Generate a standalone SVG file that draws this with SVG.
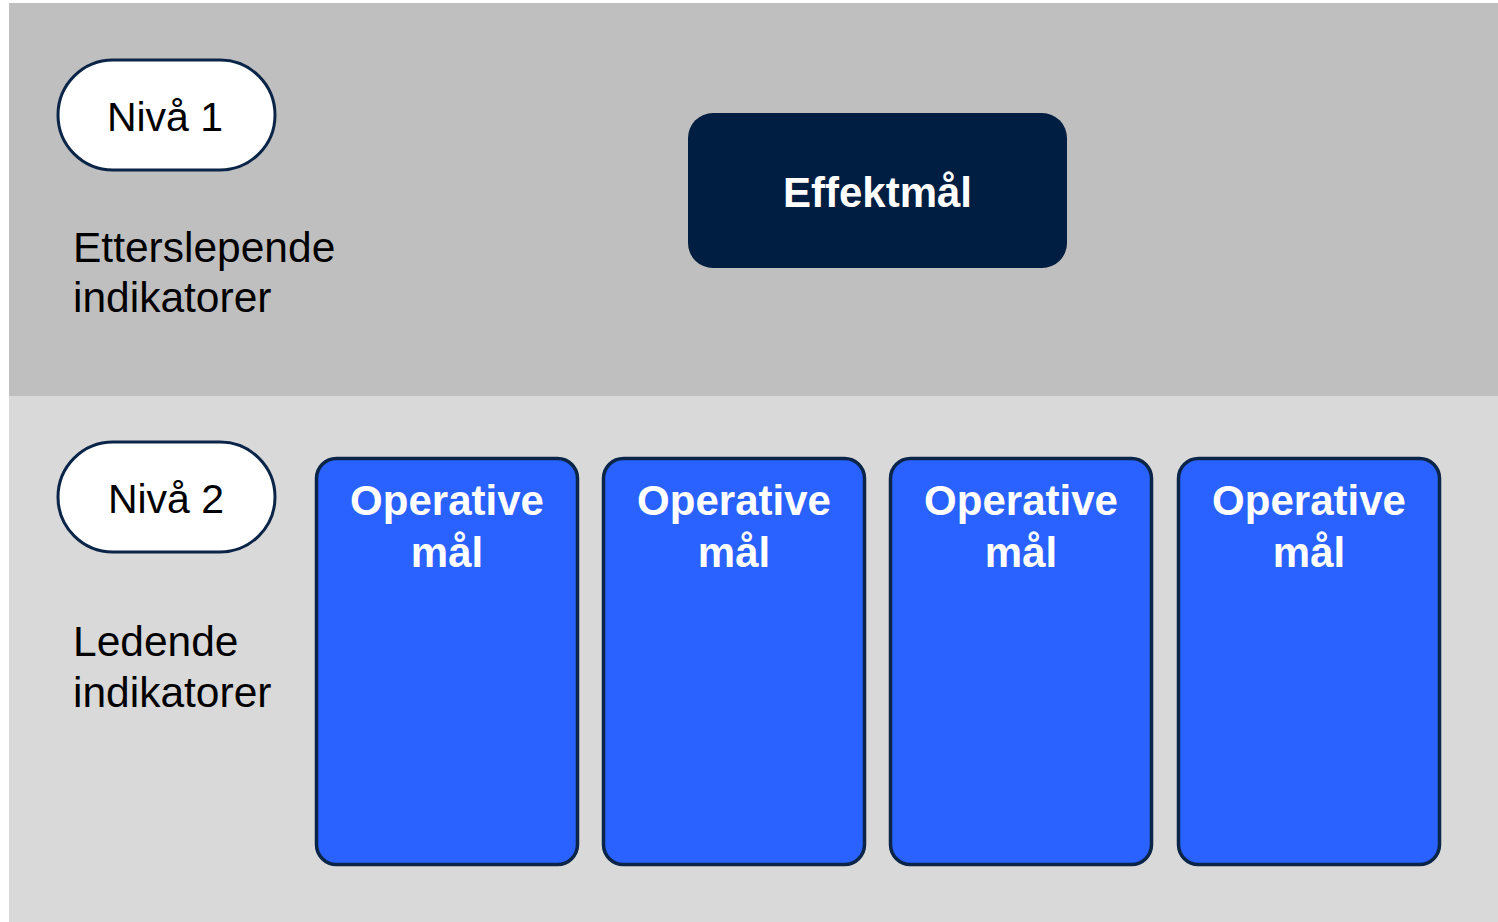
<svg xmlns="http://www.w3.org/2000/svg" width="1498" height="922" viewBox="0 0 1498 922">
  <style>
    .pill { fill: #ffffff; stroke: #0b2548; stroke-width: 3; }
    .pill-text { font-family: "Liberation Sans", Arial, sans-serif; font-size: 41px; fill: #000000; text-anchor: middle; }
    .side-text { font-family: "Liberation Sans", Arial, sans-serif; font-size: 42.5px; fill: #000000; }
    .goal-dark { fill: #001e41; }
    .goal-blue { fill: #2962ff; stroke: #0b2548; stroke-width: 3.5; }
    .goal-text { font-family: "Liberation Sans", Arial, sans-serif; font-size: 42px; font-weight: bold; fill: #ffffff; text-anchor: middle; }
  </style>

  <!-- background bands -->
  <rect x="0" y="0" width="1498" height="922" fill="#ffffff"/>
  <rect id="band-level1" x="9" y="3" width="1489" height="393" fill="#bfbfbf"/>
  <rect id="band-level2" x="9" y="396" width="1489" height="526" fill="#d9d9d9"/>

  <!-- level labels -->
  <g id="level1-label">
    <rect class="pill" x="58" y="60" width="217" height="110" rx="55" ry="55"/>
    <text class="pill-text" x="165" y="131">Nivå 1</text>
  </g>
  <g id="level1-caption">
    <text class="side-text" x="73" y="262">Etterslepende</text>
    <text class="side-text" x="73" y="312">indikatorer</text>
  </g>

  <g id="level2-label">
    <rect class="pill" x="58" y="442" width="217" height="110" rx="55" ry="55"/>
    <text class="pill-text" x="166" y="513">Nivå 2</text>
  </g>
  <g id="level2-caption">
    <text class="side-text" x="73" y="656">Ledende</text>
    <text class="side-text" x="73" y="707">indikatorer</text>
  </g>

  <!-- impact goal -->
  <g id="effektmal">
    <rect class="goal-dark" x="688" y="113" width="379" height="155" rx="25" ry="25"/>
    <text class="goal-text" x="877.5" y="207">Effektmål</text>
  </g>

  <!-- operational goals -->
  <g id="operative-1">
    <rect class="goal-blue" x="316.5" y="458.5" width="261" height="406" rx="20" ry="20"/>
    <text class="goal-text" x="447" y="515">Operative</text>
    <text class="goal-text" x="447" y="567">mål</text>
  </g>
  <g id="operative-2">
    <rect class="goal-blue" x="603.5" y="458.5" width="261" height="406" rx="20" ry="20"/>
    <text class="goal-text" x="734" y="515">Operative</text>
    <text class="goal-text" x="734" y="567">mål</text>
  </g>
  <g id="operative-3">
    <rect class="goal-blue" x="890.5" y="458.5" width="261" height="406" rx="20" ry="20"/>
    <text class="goal-text" x="1021" y="515">Operative</text>
    <text class="goal-text" x="1021" y="567">mål</text>
  </g>
  <g id="operative-4">
    <rect class="goal-blue" x="1178.5" y="458.5" width="261" height="406" rx="20" ry="20"/>
    <text class="goal-text" x="1309" y="515">Operative</text>
    <text class="goal-text" x="1309" y="567">mål</text>
  </g>

  <!-- no connectors in this diagram -->
  <g id="connectors"/>
</svg>
